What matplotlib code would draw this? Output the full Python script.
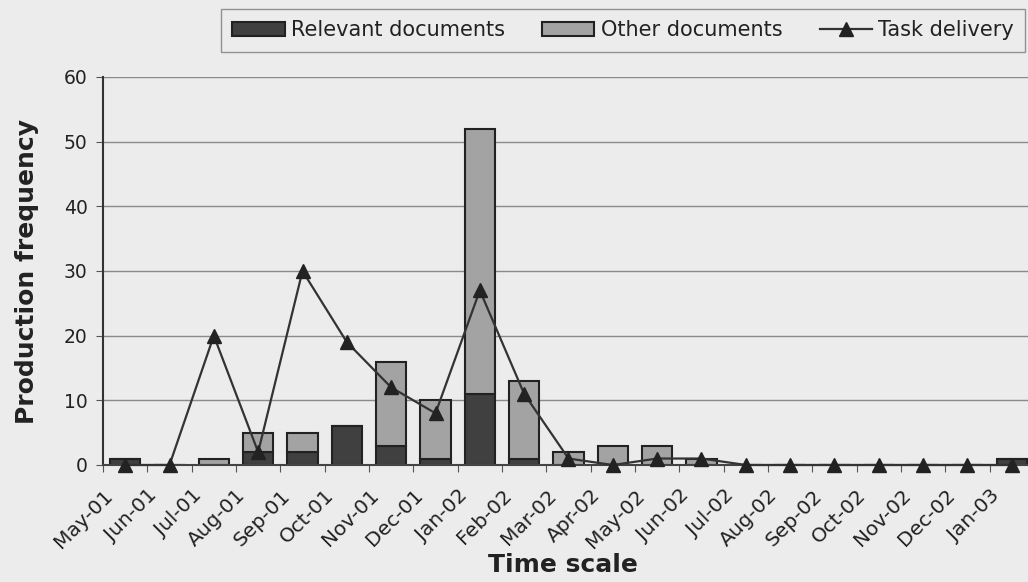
import numpy as np
import matplotlib.pyplot as plt

months = ["May-01", "Jun-01", "Jul-01", "Aug-01", "Sep-01", "Oct-01", "Nov-01",
          "Dec-01", "Jan-02", "Feb-02", "Mar-02", "Apr-02", "May-02", "Jun-02",
          "Jul-02", "Aug-02", "Sep-02", "Oct-02", "Nov-02", "Dec-02", "Jan-03"]
relevant = [1, 0, 0, 2, 2, 6, 3, 1, 11, 1, 0, 0, 0, 0, 0, 0, 0, 0, 0, 0, 1]
other = [0, 0, 1, 3, 3, 0, 13, 9, 41, 12, 2, 3, 3, 1, 0, 0, 0, 0, 0, 0, 0]
task = [0, 0, 20, 2, 30, 19, 12, 8, 27, 11, 1, 0, 1, 1, 0, 0, 0, 0, 0, 0, 0]

bg = "#ececec"
ink = "#222222"
fig = plt.figure(figsize=(10.28, 5.82), dpi=100, facecolor=bg)
ax = fig.add_axes([103 / 1028, 117 / 582, 931 / 1028, 388 / 582])
ax.set_facecolor(bg)

x = np.arange(len(months))
b1 = ax.bar(x, relevant, width=0.68, color="#404040", edgecolor=ink,
            linewidth=1.5, label="Relevant documents", zorder=2)
b2 = ax.bar(x, other, width=0.68, bottom=relevant, color="#a3a3a3",
            edgecolor=ink, linewidth=1.5, label="Other documents", zorder=2)
ln, = ax.plot(x, task, color="#333333", linewidth=1.6, marker="^",
              markersize=10.5, markerfacecolor=ink, markeredgecolor=ink,
              label="Task delivery", zorder=3, clip_on=False)

ax.set_xlim(-0.5, len(months) - 0.5)
ax.set_ylim(0, 60)
ax.set_yticks(range(0, 61, 10))
ax.yaxis.grid(True, color="#8a8a8a", linewidth=1.0, zorder=0)
ax.set_axisbelow(True)

# month boundaries carry the tick marks, labels hang off the left boundary
ax.xaxis.remove_overlapping_locs = False
ax.set_xticks(np.arange(-0.5, len(months), 1.0))
ax.set_xticklabels([])
ax.set_xticks(x - 0.5, minor=True)
ax.set_xticklabels(months, minor=True, rotation=45, ha="right",
                   rotation_mode="anchor", fontsize=14.5, color=ink)
ax.tick_params(axis="x", which="major", length=5, direction="out",
               color="#555555")
ax.tick_params(axis="x", which="minor", length=0, pad=15)
ax.tick_params(axis="y", length=5, direction="out", labelsize=13.5,
               color="#555555", labelcolor=ink, pad=6)

for side in ["top", "right"]:
    ax.spines[side].set_visible(False)
ax.spines["left"].set_color("#333333")
ax.spines["left"].set_linewidth(1.5)
ax.spines["bottom"].set_color("#444444")
ax.spines["bottom"].set_linewidth(1.5)

ax.set_ylabel("Production frequency", fontsize=18, fontweight="bold",
              color=ink, labelpad=18)
ax.set_xlabel("Time scale", fontsize=18, fontweight="bold", color=ink)
ax.xaxis.set_label_coords((563 - 103) / 931, (465 - 553) / 388)

leg = fig.legend([b1, b2, ln],
                 ["Relevant documents", "Other documents", "Task delivery"],
                 loc="upper left", bbox_to_anchor=(221 / 1028, 1 - 9 / 582),
                 ncol=3, fontsize=15, frameon=True, fancybox=False,
                 handlelength=2.5, handleheight=0.7, handletextpad=0.3,
                 columnspacing=1.8, borderpad=0.55, borderaxespad=0)
leg.get_frame().set_facecolor(bg)
leg.get_frame().set_edgecolor("#7a7a7a")
for t in leg.get_texts():
    t.set_color(ink)

fig.savefig("out.png", dpi=100, facecolor=bg)
